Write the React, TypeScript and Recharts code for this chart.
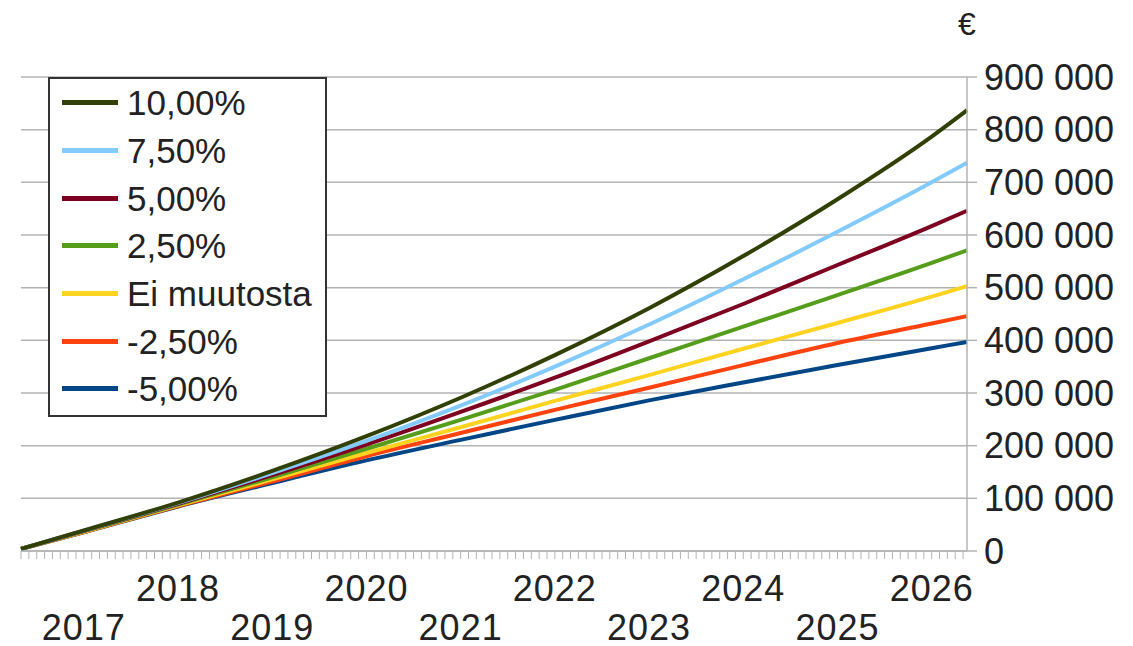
import { LineChart, Line, XAxis, YAxis, CartesianGrid, Legend } from "recharts";

// time in decimal years, first and last point sit on the plot edges
const period = [2016.333, 2017, 2018, 2019, 2020, 2021, 2022, 2023, 2024, 2025, 2026, 2026.375];

const rate10 = [4000, 39000, 92000, 152000, 218000, 291000, 372000, 461000, 560000, 668000, 787000, 837000];
const rate75 = [4000, 38600, 91000, 148000, 209000, 276000, 350000, 430000, 516000, 606000, 700000, 737000];
const rate5 = [4000, 38200, 89500, 144000, 202000, 264000, 329000, 398000, 469000, 543000, 617000, 646000];
const rate25 = [4000, 37600, 88000, 140000, 194000, 249000, 306000, 366000, 426000, 486000, 547000, 571000];
const rate0 = [4000, 36500, 86500, 136000, 186000, 235000, 285000, 334000, 384000, 433000, 483000, 503000];
const rateM25 = [4000, 36000, 85500, 132000, 180000, 224000, 268000, 310000, 353000, 395000, 432000, 446000];
const rateM5 = [4000, 35600, 84500, 129000, 172000, 211000, 249000, 286000, 320000, 353000, 385000, 397000];

const seriesNames = ["-5,00%", "-2,50%", "Ei muutosta", "2,50%", "5,00%", "7,50%", "10,00%"];
const seriesColors = ["#004586", "#ff420e", "#ffd320", "#579d1c", "#7e0021", "#83caff", "#314004"];
const seriesValues = [rateM5, rateM25, rate0, rate25, rate5, rate75, rate10];
const legendOrder = [...seriesNames].reverse();

const yTicks = [0, 100000, 200000, 300000, 400000, 500000, 600000, 700000, 800000, 900000];
// one minor tick per month
const monthTicks = Array.from({ length: 121 }, (_, m) => 2016 + (4 + m) / 12);

const rows = period.map((p, i) => {
	const row: Record<string, number> = { period: p };
	seriesValues.forEach((vals, s) => {
		row["s" + s] = vals[i];
	});
	return row;
});

const GRID = "#b3b3b3";
const TEXT = "#222";
const FONT = "'Liberation Sans', Arial, sans-serif";

const fmtThousands = (v: number) => String(v).replace(/\B(?=(\d{3})+(?!\d))/g, " ");

function YearTick({ x, y, payload }: any) {
	const v = payload.value as number;
	const year = Math.round(v);
	if (Math.abs(v - year) > 1e-6) return <g />;
	const lower = year % 2 === 1;
	return (
		<text
			x={x}
			y={y + (lower ? 81 : 42)}
			textAnchor="middle"
			fontSize={36}
			letterSpacing={1}
			fill={TEXT}
			fontFamily={FONT}
		>
			{year}
		</text>
	);
}

function EuroLabel({ viewBox }: any) {
	if (!viewBox) return null;
	return (
		<text x={viewBox.x} y={viewBox.y - 42} textAnchor="middle" fontSize={32} fill={TEXT} fontFamily={FONT}>
			€
		</text>
	);
}

function LegendBox({ payload }: any) {
	const items = [...(payload ?? [])].sort(
		(a: any, b: any) => legendOrder.indexOf(a.value) - legendOrder.indexOf(b.value)
	);
	return (
		<div
			style={{
				boxSizing: "border-box",
				width: 279,
				height: 340,
				border: "2px solid #333",
				background: "#fff",
				fontFamily: FONT,
			}}
		>
			{items.map((it: any) => (
				<div key={it.value} style={{ height: 47.7, display: "flex", alignItems: "center" }}>
					<div style={{ marginLeft: 12, width: 56, height: 5, background: it.color }} />
					<span style={{ marginLeft: 9, fontSize: 35, color: TEXT, lineHeight: 1 }}>{it.value}</span>
				</div>
			))}
		</div>
	);
}

export default function App() {
	return (
		<div style={{ position: "absolute", left: 0, top: 0, width: 1133, height: 646, background: "#fff" }}>
			<LineChart
				width={1133}
				height={646}
				data={rows}
				margin={{ top: 77, right: 0, bottom: 0, left: 21 }}
				style={{ fontFamily: FONT }}
			>
				<CartesianGrid vertical={false} stroke={GRID} strokeWidth={1.5} />
				<XAxis
					dataKey="period"
					type="number"
					domain={[2016.333, 2026.375]}
					ticks={monthTicks}
					interval={0}
					height={95}
					tickSize={8}
					tickMargin={0}
					axisLine={{ stroke: GRID, strokeWidth: 1.5 }}
					tickLine={{ stroke: GRID }}
					tick={<YearTick />}
				/>
				<YAxis
					orientation="right"
					domain={[0, 900000]}
					ticks={yTicks}
					interval={0}
					width={166}
					tickSize={10}
					tickMargin={7}
					axisLine={{ stroke: GRID, strokeWidth: 1.5 }}
					tickLine={{ stroke: GRID, strokeWidth: 1.5 }}
					tickFormatter={fmtThousands}
					tick={{ fontSize: 36, fill: TEXT }}
					label={<EuroLabel />}
				/>
				<YAxis
					yAxisId="l"
					orientation="left"
					domain={[0, 900000]}
					ticks={yTicks}
					interval={0}
					width={0}
					tickSize={11}
					axisLine={{ stroke: GRID, strokeWidth: 1.5 }}
					tickLine={{ stroke: GRID, strokeWidth: 1.5 }}
					tick={() => <g />}
				/>
				<Legend
					layout="vertical"
					align="center"
					verticalAlign="middle"
					content={<LegendBox />}
					wrapperStyle={{ left: 48, top: 77, width: 279, height: 340 }}
				/>
				{seriesNames.map((name, s) => (
					<Line
						key={name}
						type="monotone"
						dataKey={"s" + s}
						name={name}
						stroke={seriesColors[s]}
						strokeWidth={4}
						dot={false}
						activeDot={false}
						isAnimationActive={false}
					/>
				))}
			</LineChart>
		</div>
	);
}
